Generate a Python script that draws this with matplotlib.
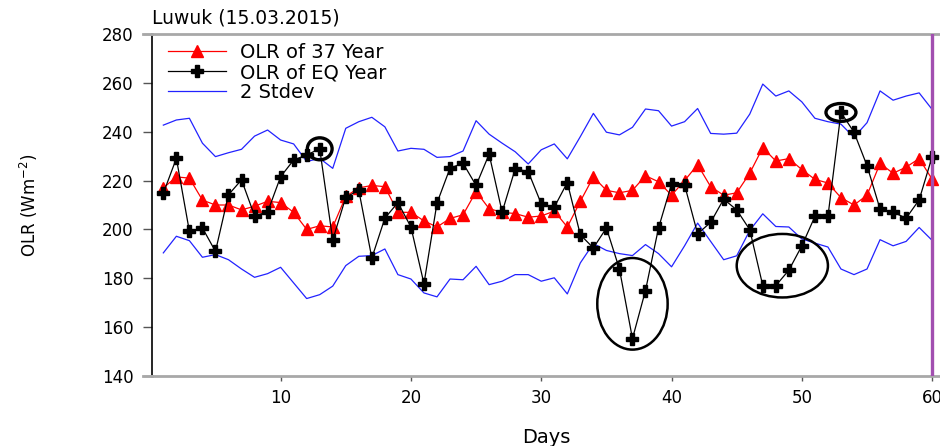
import numpy as np
import matplotlib
matplotlib.use('Agg')
import matplotlib.pyplot as plt
from matplotlib.patches import Ellipse
from matplotlib.lines import Line2D

plt.rcParams['font.family'] = ['DejaVu Sans']

# days of the period
days = list(range(1, 61))

# OLR climatology (37 years)
olr_37 = [217, 221.5, 221, 212, 210, 210, 208, 209.5, 211.5, 211,
          207, 200, 201.5, 201, 213.5, 217, 218, 217.5, 207, 207,
          203.5, 201, 204.5, 206, 215.5, 208.5, 207, 206.5, 205, 205.5,
          207.5, 201, 211.5, 221.5, 216, 215, 216, 222, 219.5, 214,
          220, 226.5, 217.5, 214, 215, 223, 233.5, 228, 229, 224.5,
          220.5, 219, 213, 210, 214, 227, 223, 225.5, 229, 220.5]

# OLR of the earthquake year
olr_eq = [214.8, 229.1, 199.2, 200.6, 191, 214.2, 220.3, 205.6, 207.1, 221.6,
          228.4, 230.5, 233, 195.7, 213.2, 216, 188.3, 204.6, 211, 201,
          177.8, 210.8, 225.1, 227.1, 218, 230.8, 207.1, 224.8, 223.7, 210.5,
          209.1, 219.2, 197.8, 192.4, 200.6, 183.8, 155.3, 175, 200.6, 218.6,
          218.2, 198.2, 202.9, 212.4, 208, 199.9, 177, 177, 183.3, 193.3,
          205.3, 205.3, 247.9, 239.8, 226.1, 208.3, 207.1, 204.6, 212.1, 229.8]

# mean +/- 2 stdev
upper = [242.7, 244.8, 245.5, 235.3, 229.8, 231.4, 232.8, 238.2, 240.7, 236.6,
         235, 227.8, 229.1, 225, 241.4, 244.1, 245.9, 242, 232.1, 233.2,
         232.8, 229.5, 229.8, 232.1, 244.5, 239, 235.3, 231.8, 226.8, 232.6,
         235, 228.9, 238, 247.5, 239.8, 238.7, 241.8, 249.3, 248.6, 242.3,
         244.1, 249.5, 239.3, 239, 239.4, 247.2, 259.5, 254.6, 256.7, 252.2,
         245.5, 244.1, 243.1, 237.7, 243.7, 256.7, 252.9, 254.6, 255.9, 249.1]
lower = [190.4, 197.2, 195.4, 188.6, 189.7, 187.6, 183.8, 180.4, 181.9, 184.5,
         178.1, 171.7, 173.3, 176.8, 185.2, 189, 189.3, 192, 181.5, 179.7,
         174, 172.4, 179.7, 179.4, 184.9, 177.4, 178.8, 181.5, 181.5, 178.8,
         180.2, 173.6, 186.3, 194.2, 191.4, 190.1, 189.3, 193.8, 190.1, 184.7,
         193.3, 202.6, 195.1, 187.6, 189.2, 199.6, 206.4, 201.2, 201, 196.1,
         194.4, 192.8, 183.8, 181.5, 183.8, 195.8, 193.3, 195.1, 200.8, 195.5]

# anomalies circled on the chart: (days, ellipse width in days, height in Wm-2, line width)
highlights = [([13], 1.9, 9, 2.4),
              ([36, 37, 38], 5.4, 37.5, 1.8),
              ([47, 48, 49, 50], 7.0, 26, 1.8),
              ([53], 2.3, 7.3, 2.4)]
eq_day = 60

fig = plt.figure(figsize=(9.4, 4.46), dpi=100)
ax = fig.add_axes([152/940, 1 - 376/446, 1 - 152/940, (376 - 34)/446])

ax.plot(days, upper, color='#2222ff', lw=0.9, label='2 Stdev')
ax.plot(days, lower, color='#2222ff', lw=0.9)
ax.plot(days, olr_37, color='red', lw=0.9, marker='^', ms=9, mec='red', label='OLR of 37 Year')
ax.plot(days, olr_eq, color='black', lw=0.9, marker='P', ms=8, label='OLR of EQ Year')

for d, w, h, lw in highlights:
    vals = [olr_eq[days.index(i)] for i in d]
    cx = np.mean(d)
    cy = (min(vals) + max(vals)) / 2
    ax.add_patch(Ellipse((cx, cy), w, h, fill=False, ec='black', lw=lw, zorder=5))

ax.axvline(eq_day, color='#a24fb0', lw=2.4, zorder=6)

ax.set_xlim(0.13, 60.6)
ax.set_ylim(140, 280)
ax.set_xticks([10, 20, 30, 40, 50, 60])
ax.set_yticks(np.arange(140, 281, 20))
ax.tick_params(axis='y', direction='out', length=6.5, width=1, color='#555555', labelsize=12, pad=7)
ax.tick_params(axis='x', direction='out', length=3.5, width=1, color='#555555', labelsize=12, pad=6)

ax.spines['right'].set_visible(False)
ax.spines['left'].set_color('black')
ax.spines['left'].set_linewidth(1.2)
for s in ['top', 'bottom']:
    ax.spines[s].set_color('#a8a8a8')
    ax.spines[s].set_linewidth(2)
# gray frame lines reach over the y tick marks
for yy in [1 - 34/446, 1 - 376/446]:
    fig.add_artist(Line2D([143/940, 152/940], [yy, yy], color='#a8a8a8', lw=2, transform=fig.transFigure))

ax.set_ylabel('OLR (Wm$^{-2}$)', fontsize=12, labelpad=44)
ax.set_xlabel('Days', fontsize=14, labelpad=15)
ax.text(0.0, 1.02, 'Luwuk (15.03.2015)', transform=ax.transAxes, fontsize=13.5, ha='left', va='bottom')

h, l = ax.get_legend_handles_labels()
order = [1, 2, 0]
ax.legend([h[i] for i in order], [l[i] for i in order], loc='upper left',
          bbox_to_anchor=(0.005, 1.007), frameon=False, fontsize=14, numpoints=1,
          handlelength=3.0, handletextpad=0.7, labelspacing=0.05, borderaxespad=0.2)

fig.savefig('out.png', dpi=100)
